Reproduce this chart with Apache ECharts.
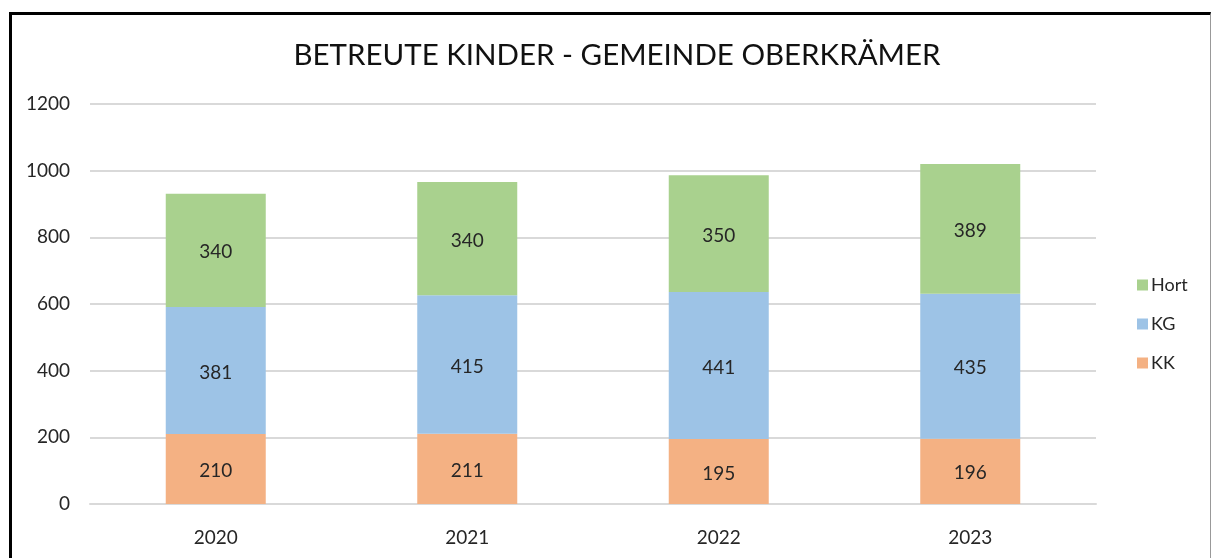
<!DOCTYPE html>
<html><head><meta charset="utf-8">
<script src="https://cdn.jsdelivr.net/npm/echarts@6/dist/echarts.min.js"></script>
<style>
html,body{margin:0;padding:0;background:#fff;}
#c{position:absolute;left:0;top:0;width:1213px;height:558px;}
#frame{position:absolute;left:9px;top:12px;width:1202px;height:560px;border-top:3px solid #000;border-left:3px solid #000;border-right:1px solid #999;box-sizing:border-box;pointer-events:none;}
</style></head>
<body>
<div id="c"></div>
<div id="frame"></div>
<script>
const categories = ['2020','2021','2022','2023'];
const kk = [210, 211, 195, 196];
const kg = [381, 415, 441, 435];
const hort = [340, 340, 350, 389];
const yTicks = [0,200,400,600,800,1000,1200];

const FONT = 'Lato, "Open Sans", sans-serif';
const chart = echarts.init(document.getElementById('c'));
const lbl = {show:true, position:'inside', color:'#262626', fontSize:19, fontFamily:FONT, offset:[0,2]};
function s(name, data, color){
  return {name, type:'bar', stack:'total', data, barWidth:100, itemStyle:{color}, label:lbl};
}
chart.setOption({
  animation:false,
  backgroundColor:'#fff',
  title:{text:'BETREUTE KINDER - GEMEINDE OBERKRÄMER', left:612, textAlign:'center', top:35,
    textStyle:{fontFamily:FONT, fontSize:29.5, fontWeight:'normal', color:'#111'}},
  grid:{left:90, right:1213-1096, top:104, bottom:558-504},
  legend:{orient:'vertical', left:1132, top:271, itemWidth:11, itemHeight:11, itemGap:21, icon:'rect',
    data:['Hort','KG','KK'], textStyle:{fontFamily:FONT, fontSize:18, color:'#262626', padding:[0,0,0,-2]}},
  xAxis:{type:'category', data:categories, axisLine:{lineStyle:{color:'#d9d9d9', width:2}}, axisTick:{show:false},
    axisLabel:{fontFamily:FONT, fontSize:19, color:'#262626', margin:24}},
  yAxis:{type:'value', min:0, max:1200, interval:200, axisLine:{show:false}, axisTick:{show:false},
    splitLine:{lineStyle:{color:'#d9d9d9', width:2}},
    axisLabel:{fontFamily:FONT, fontSize:19, color:'#262626', margin:20,
      formatter:v=>yTicks.includes(v)?String(v):''}},
  series:[s('KK', kk, '#F4B183'), s('KG', kg, '#9DC3E6'), s('Hort', hort, '#A9D18E')]
});
</script>
</body></html>
